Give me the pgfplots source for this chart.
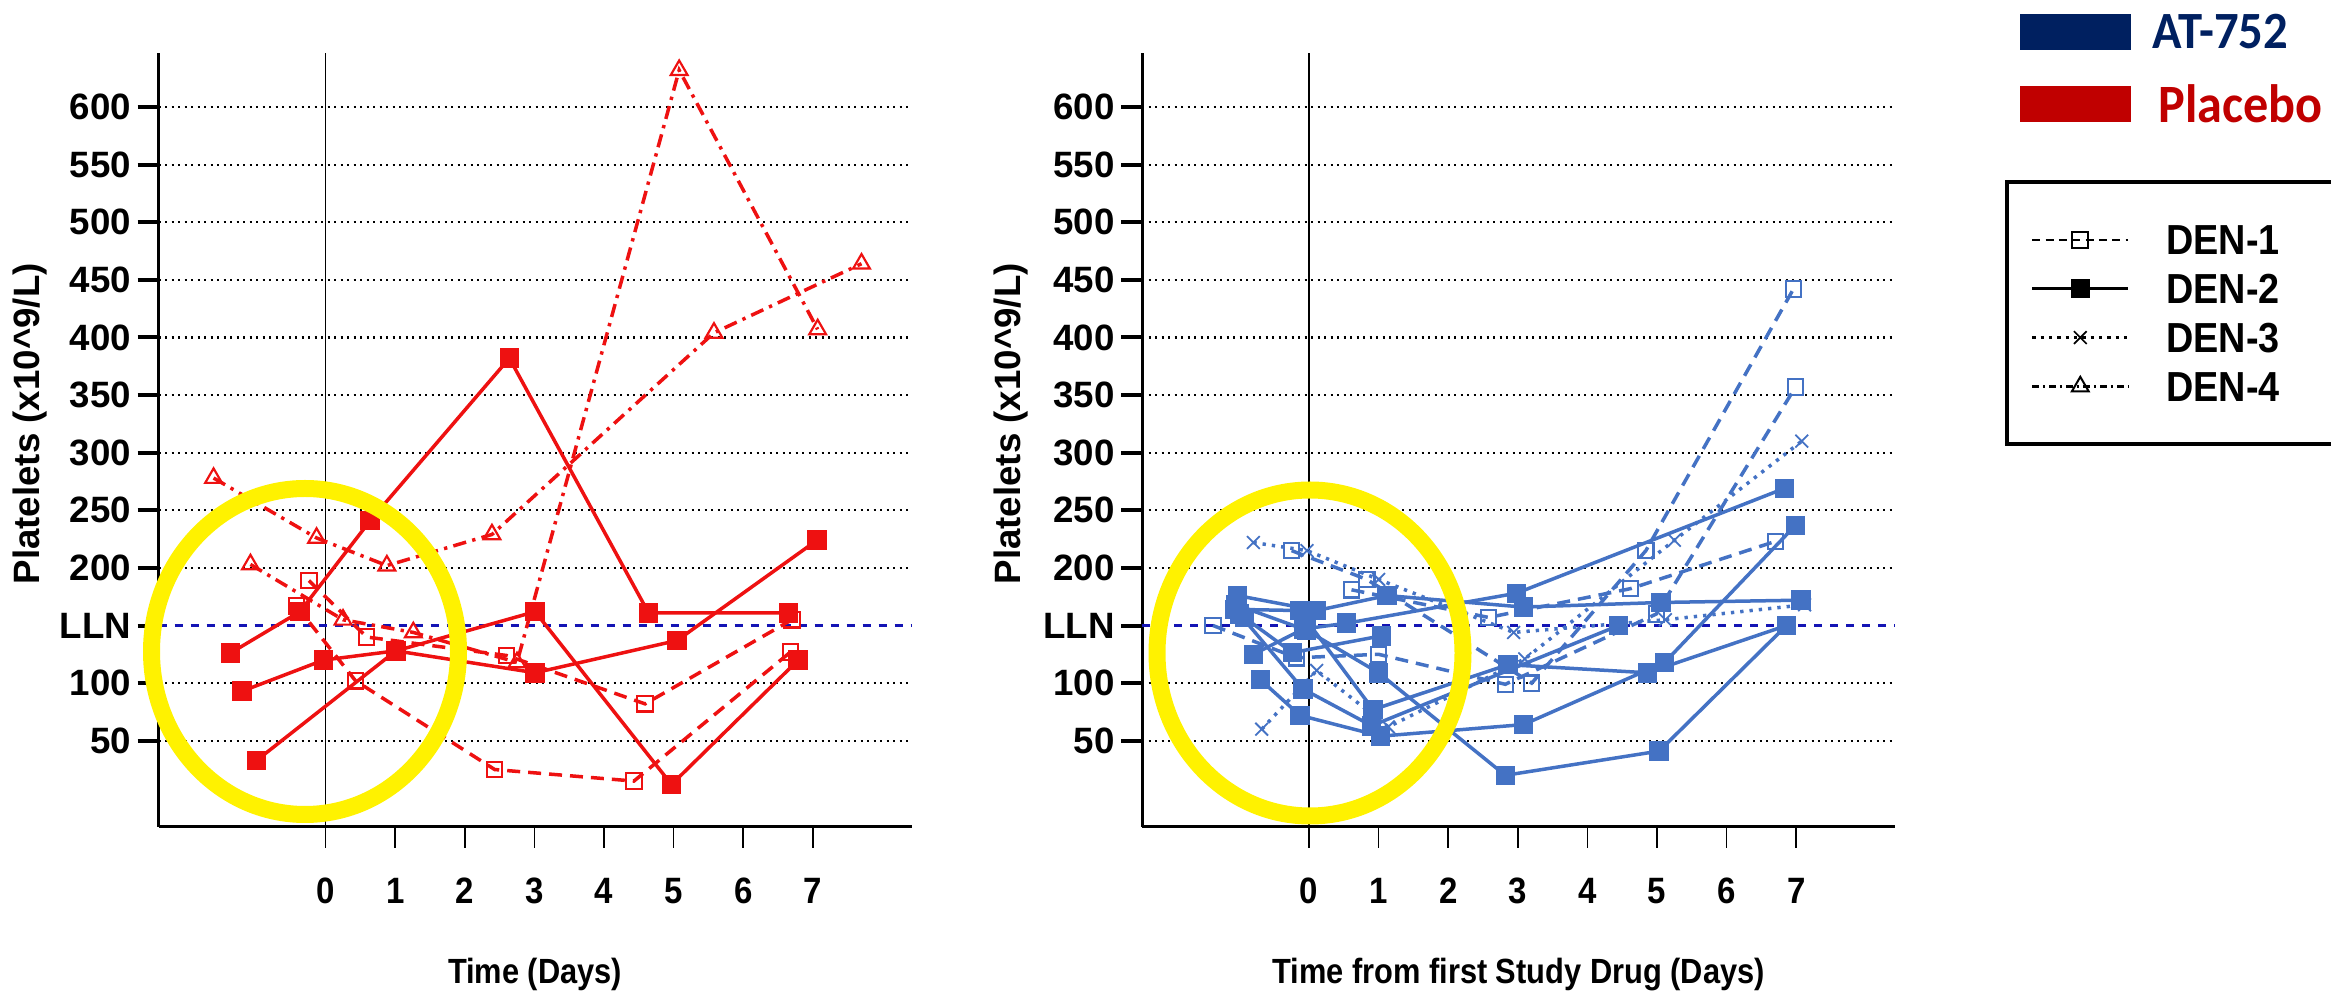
\documentclass[border=0pt]{standalone}
\usepackage{pgfplots}
\pgfplotsset{compat=1.18}
\usepackage{fontspec}
\setmainfont{Liberation Sans}
\newfontfamily\condfont{Liberation Sans}[FakeStretch=0.88]
\newfontfamily\xtfont{Liberation Sans}[FakeStretch=0.9]
\newfontfamily\ytfont{Liberation Sans}[FakeStretch=1.0]
\newfontfamily\legfont{Liberation Sans}[FakeStretch=0.9]
\newfontfamily\calfont{Carlito}[FakeStretch=0.93]
\definecolor{pred}{RGB}{238,17,17}
\definecolor{ablue}{RGB}{68,114,196}
\definecolor{navy}{RGB}{0,32,96}
\definecolor{dkred}{RGB}{192,0,0}
\definecolor{llnc}{RGB}{20,20,180}
\definecolor{yel}{RGB}{255,242,0}
\pgfplotsset{
  d1/.style={dash pattern=on 3.9pt off 2.4pt, line width=1.05pt, mark=square, mark size=2.3pt, mark options={solid, line width=0.65pt}},
  d2/.style={solid, line width=1.05pt, mark=square*, mark size=2.4pt},
  d3/.style={dash pattern=on 1pt off 1.8pt, line width=1.05pt, mark=x, mark size=2.7pt, mark options={solid, line width=0.55pt}},
  d4/.style={dash pattern=on 4pt off 1.9pt on 1pt off 1.9pt, line width=1.05pt, mark=triangle, mark size=2.9pt, mark options={solid, line width=0.65pt}},
  base/.style={
    scale only axis, width=225.9pt, height=232.02pt,
    xmin=-2.4, xmax=8.42, ymin=-24.6, ymax=646.6,
    axis lines=left, axis line style={-, line width=0.9pt, black},
    xtick={0,1,2,3,4,5,6,7},
    ytick={50,100,200,250,300,350,400,450,500,550,600},
    extra y ticks={150}, extra y tick labels={LLN},
    extra y tick style={grid=none},
    ymajorgrids, grid style={black, line width=0.65pt, dash pattern=on 0.6pt off 1.35pt},
    tick align=outside, major tick length=6.3pt,
    x tick style={line width=0.5pt, black}, y tick style={line width=1.2pt, black},
    xticklabel style={font=\xtfont\bfseries\fontsize{11}{12}\selectfont, yshift=-5.6pt},
    yticklabel style={font=\ytfont\bfseries\fontsize{11}{12}\selectfont, xshift=1.6pt},
    /pgf/number format/assume math mode=true,
    label style={font=\condfont\bfseries\fontsize{10.5}{12}\selectfont},
    xlabel style={at={(axis description cs:0.5,-0.1914)}, anchor=center},
    ylabel style={font=\bfseries\fontsize{11}{13}\selectfont, anchor=center},
    clip=false,
  },
}
\begin{document}
\begin{tikzpicture}
\useasboundingbox (0,0) rectangle (699.3pt,297.3pt);
\begin{axis}[base, at={(47.58pt,49.29pt)}, anchor=south west,
  xlabel={Time (Days)}, ylabel={Platelets (x10\textasciicircum 9/L)},
  ylabel style={at={(axis description cs:-0.1713,0.521)}}]
\draw[black, line width=0.5pt] (axis cs:0,-24.6) -- (axis cs:0,646.6);
\draw[llnc, line width=0.65pt, dash pattern=on 2.4pt off 2.4pt] (axis cs:-2.4,150) -- (axis cs:8.42,150);
\addplot[pred, d1] coordinates {(-0.24,189) (0.59,140) (2.60,124) (4.59,82) (6.70,155)};
\addplot[pred, d1] coordinates {(-0.42,167) (0.43,102) (2.43,25) (4.43,15) (6.68,127)};
\addplot[pred, d2] coordinates {(-1.37,126) (-0.37,162) (0.64,241) (2.64,382) (4.64,161) (6.65,161)};
\addplot[pred, d2] coordinates {(-1.20,93) (-0.03,120) (1.01,128) (3.01,162) (4.97,12) (6.79,120)};
\addplot[pred, d2] coordinates {(-0.99,33) (1.01,128) (3.01,109) (5.05,137) (7.06,224)};
\addplot[pred, d4] coordinates {(-1.61,278) (-0.13,226) (0.88,202) (2.39,229) (5.58,404) (7.70,464)};
\addplot[pred, d4] coordinates {(-1.08,203) (0.25,155) (1.26,144) (2.75,118) (5.08,632) (7.07,407)};
\end{axis}
\begin{axis}[base, at={(342.6pt,49.29pt)}, anchor=south west,
  xlabel={Time from first Study Drug (Days)}, ylabel={Platelets (x10\textasciicircum 9/L)},
  ylabel style={at={(axis description cs:-0.174,0.521)}},
  legend cell align=left,
  legend image code/.code={\draw[mark repeat=2,mark phase=2] plot coordinates {(0pt,0pt) (14.4pt,0pt) (28.8pt,0pt)};},
  legend style={at={(axis description cs:1.1461,0.8362)}, anchor=north west, draw=black, line width=1.2pt, fill=white,
    inner xsep=7.2pt, inner ysep=10pt, row sep=0pt, column sep=11pt,
    font=\legfont\bfseries\fontsize{12.6}{14}\selectfont,
    nodes={text width=43.5pt, align=left, inner xsep=0pt, inner ysep=0pt, text height=9pt, text depth=0pt, minimum height=14.67pt}},
]
\addlegendimage{black, dash pattern=on 2.4pt off 1.6pt, line width=0.75pt, mark=square, mark size=2.4pt, mark options={solid, line width=0.6pt}}
\addlegendentry{DEN-1}
\addlegendimage{black, solid, line width=0.75pt, mark=square*, mark size=2.4pt}
\addlegendentry{DEN-2}
\addlegendimage{black, dash pattern=on 1pt off 1.5pt, line width=0.75pt, mark=x, mark size=2.7pt, mark options={solid, line width=0.5pt}}
\addlegendentry{DEN-3}
\addlegendimage{black, dash pattern=on 2pt off 1.2pt on 0.7pt off 1.2pt, line width=0.75pt, mark=triangle, mark size=2.9pt, mark options={solid, line width=0.6pt}}
\addlegendentry{DEN-4}
\draw[black, line width=0.5pt] (axis cs:0,-24.6) -- (axis cs:0,646.6);
\draw[llnc, line width=0.65pt, dash pattern=on 2.4pt off 2.4pt] (axis cs:-2.4,150) -- (axis cs:8.42,150);
% DEN-1
\addplot[ablue, d1, forget plot] coordinates {(-1.38,150) (-0.18,122) (1.0,125) (2.82,99) (4.99,160) (6.99,357)};
\addplot[ablue, d1, forget plot] coordinates {(-0.25,215) (0.83,190) (3.2,100) (4.84,215) (6.96,442)};
\addplot[ablue, d1, forget plot] coordinates {(0.61,181) (2.58,157) (4.62,182) (6.70,223)};
% DEN-2
\addplot[ablue, d2, forget plot] coordinates {(-1.03,176) (0.11,163) (1.12,176) (3.08,166) (5.06,170) (7.07,172)};
\addplot[ablue, d2, forget plot] coordinates {(-1.07,164) (-0.14,163) (0.92,77) (2.86,116) (4.86,109) (6.86,150)};
\addplot[ablue, d2, forget plot] coordinates {(-0.93,157) (-0.24,126.5) (1.04,141)};
\addplot[ablue, d2, forget plot] coordinates {(-0.80,125) (-0.08,147) (0.54,152) (2.98,178) (6.83,269)};
\addplot[ablue, d2, forget plot] coordinates {(-1.05,168) (-0.04,146) (1.0,109) (2.82,20) (5.03,41) (6.86,150)};
\addplot[ablue, d2, forget plot] coordinates {(-0.70,103) (-0.13,72) (1.03,54) (3.08,64) (5.11,118) (6.99,237)};
\addplot[ablue, d2, forget plot] coordinates {(-1.0,160) (-0.09,95) (0.90,63) (4.45,150)};
% DEN-3
\addplot[ablue, d3, forget plot] coordinates {(-0.80,222) (-0.03,215) (1.0,190) (2.94,144) (5.12,155) (7.12,168)};
\addplot[ablue, d3, forget plot] coordinates {(-0.68,60) (0.11,111) (1.14,62) (3.10,121) (5.25,224) (7.08,310)};
\end{axis}
\draw[yel, line width=5.1pt] (91.5pt,101.85pt) ellipse [x radius=46.05pt, y radius=48.9pt];
\draw[yel, line width=5.1pt] (393pt,101.4pt) ellipse [x radius=45.9pt, y radius=48.9pt];
\fill[navy] (606pt,282.3pt) rectangle (639.3pt,293.1pt);
\node[anchor=west, inner sep=0pt, text=navy, font=\calfont\bfseries\fontsize{15.7}{18}\selectfont] at (645.6pt,287.7pt) {AT-752};
\fill[dkred] (606pt,260.7pt) rectangle (639.3pt,271.5pt);
\node[anchor=west, inner sep=0pt, text=dkred, font=\calfont\bfseries\fontsize{16.2}{18}\selectfont] at (647.4pt,266.1pt) {Placebo};
\end{tikzpicture}
\end{document}
